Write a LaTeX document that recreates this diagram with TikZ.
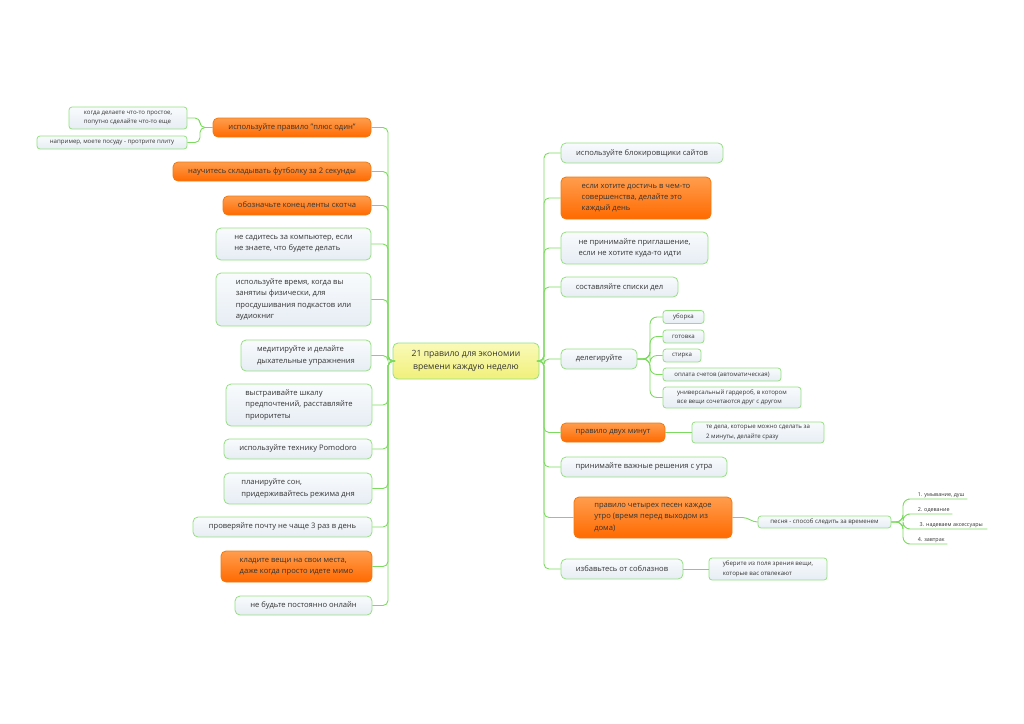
\documentclass[tikz,border=0pt]{standalone}
\usepackage{fontspec}
\setmainfont{Open Sans}
\definecolor{linegreen}{HTML}{7CDB5F}
\definecolor{boxgreen}{HTML}{94E07F}
\definecolor{textgray}{HTML}{333333}
\definecolor{lighttop}{HTML}{F9FBFD}
\definecolor{lightbot}{HTML}{E6EDF4}
\definecolor{orangetop}{HTML}{FF9D4D}
\definecolor{orangebot}{HTML}{FF6A00}
\definecolor{orangeline}{HTML}{F07A10}
\definecolor{yellowtop}{HTML}{FAFAB8}
\definecolor{yellowbot}{HTML}{F0F07A}
\newcommand{\mainsz}{\fontsize{7.6}{11.3}\selectfont}
\newcommand{\rootsz}{\fontsize{8.6}{12.5}\selectfont}
\newcommand{\smallsz}{\fontsize{6.1}{9.6}\selectfont}
\newcommand{\tinysz}{\fontsize{5.4}{7}\selectfont}
\tikzset{
  basebox/.style={rounded corners=5pt, draw=boxgreen, line width=0.8pt, text=textgray, inner sep=0pt, align=left, font=\mainsz},
  lbox/.style={basebox, top color=lighttop, bottom color=lightbot},
  obox/.style={basebox, draw=orangeline, top color=orangetop, bottom color=orangebot},
  rootbox/.style={basebox, top color=yellowtop, bottom color=yellowbot, align=center, font=\rootsz},
  sbox/.style={lbox, font=\smallsz, rounded corners=3pt},
  uline/.style={font=\tinysz, inner xsep=1.5pt, inner ysep=1.5pt, anchor=south west, text=textgray},
  conn/.style={draw=linegreen, line width=0.9pt, rounded corners=5pt},
  wh/.style n args={2}{minimum width=#1, minimum height=#2},
}
\begin{document}
\begin{tikzpicture}[x=1pt,y=-1pt]
\useasboundingbox (0,0) rectangle (1024,723);
% root
\node[rootbox, wh={146}{36}] (root) at (466,361) {21 правило для экономии\\времени каждую неделю};
\coordinate (lt) at (388,361);
\coordinate (rt) at (544,361);
% left side
\node[obox, wh={158}{19}] (l1) at (292,127.5) {используйте правило "плюс один"};
\node[obox, wh={198}{19}] (l2) at (272,171.5) {научитесь складывать футболку за 2 секунды};
\node[obox, wh={148}{19}] (l3) at (297,205.5) {обозначьте конец ленты скотча};
\node[lbox, wh={155}{32}] (l4) at (293.5,244) {не садитесь за компьютер, если\\не знаете, что будете делать};
\node[lbox, wh={155}{53}] (l5) at (293.5,299.5) {используйте время, когда вы\\занятиы физически, для\\просдушивания подкастов или\\аудиокниг};
\node[lbox, wh={130}{31}] (l6) at (306,355.5) {медитируйте и делайте\\дыхательные упражнения};
\node[lbox, wh={146}{42}] (l7) at (299,405) {выстраивайте шкалу\\предпочтений, расставляйте\\приоритеты};
\node[lbox, wh={148}{20}] (l8) at (298,449) {используйте технику Pomodoro};
\node[lbox, wh={148}{31}] (l9) at (298,488.5) {планируйте сон,\\придерживайтесь режима дня};
\node[lbox, wh={179}{20}] (l10) at (282.5,527) {проверяйте почту не чаще 3 раз в день};
\node[obox, wh={151}{31}] (l11) at (296.5,566.5) {кладите вещи на свои места,\\даже когда просто идете мимо};
\node[lbox, wh={137}{19}] (l12) at (303.5,605.5) {не будьте постоянно онлайн};
\node[sbox, wh={118}{22}] (c1) at (128,118) {когда делаете что-то простое,\\попутно сделайте что-то еще};
\node[sbox, wh={150}{13}] (c2) at (112,142.5) {например, моете посуду - протрите плиту};
\coordinate (cj) at (200,127.5);
% right side
\node[lbox, wh={162}{20}] (r1) at (642,153) {используйте блокировщики сайтов};
\node[obox, wh={150}{42}] (r2) at (636,198) {если хотите достичь в чем-то\\совершенства, делайте это\\каждый день};
\node[lbox, wh={147}{32}] (r3) at (634.5,248) {не принимайте приглашение,\\если не хотите куда-то идти};
\node[lbox, wh={117}{20}] (r4) at (619.5,287) {составляйте списки дел};
\node[lbox, wh={76}{20}] (r5) at (599,359) {делегируйте};
\node[obox, wh={104}{19}] (r6) at (613,432.5) {правило двух минут};
\node[lbox, wh={166}{20}] (r7) at (644,467) {принимайте важные решения с утра};
\node[obox, wh={158}{41}] (r8) at (653,517.5) {правило четырех песен каждое\\утро (время перед выходом из\\дома)};
\node[lbox, wh={122}{20}] (r9) at (622,569) {избавьтесь от соблазнов};
% delegate children
\node[sbox, wh={41}{13}] (d1) at (683.5,317) {уборка};
\node[sbox, wh={41}{13}] (d2) at (683.5,336.5) {готовка};
\node[sbox, wh={38}{13}] (d3) at (682,355.5) {стирка};
\node[sbox, wh={118}{13}] (d4) at (722,374.5) {оплата счетов (автоматическая)};
\node[sbox, wh={138}{21}] (d5) at (732,397.5) {универсальный гардероб, в котором\\все вещи сочетаются друг с другом};
\coordinate (dj) at (650,359);
% other children
\node[sbox, wh={132}{21}] (r6c) at (758,432.5) {те дела, которые можно сделать за\\2 минуты, делайте сразу};
\node[sbox, wh={133}{12}] (r8c) at (824.5,522) {песня - способ следить за временем};
\node[sbox, wh={118}{22}] (r9c) at (768,569) {уберите из поля зрения вещи,\\которые вас отвлекают};
\coordinate (gj) at (903,522);
\node[uline, minimum width=52] (g1) at (915,499) {1. умывание, душ};
\node[uline, minimum width=37] (g2) at (915,514) {2. одевание};
\node[uline, minimum width=72] (g3) at (915,529) {3. надеваем аксессуары};
\node[uline, minimum width=32] (g4) at (915,544) {4. завтрак};
% connectors
\foreach \n in {l1,l2,l3,l4,l5,l6,l7,l8,l9,l10,l11,l12}
  \draw[conn] (root.west) -- (lt) |- (\n.east);
\foreach \n in {r1,r2,r3,r4,r5,r6,r7,r8,r9}
  \draw[conn] (root.east) -- (rt) |- (\n.west);
\foreach \n in {c1,c2}
  \draw[conn] (l1.west) -- (cj) |- (\n.east);
\foreach \n in {d1,d2,d3,d4,d5}
  \draw[conn, rounded corners=7pt] (r5.east) -- (dj) |- (\n.west);
\draw[conn] (r6.east) -- (r6c.west);
\draw[conn] (r9.east) -- (r9c.west);
\draw[conn, rounded corners=0pt] (r8.east) -- ++(10,0) to[out=0,in=180] (r8c.west);
\foreach \n in {g1,g2,g3,g4}
  \draw[conn, rounded corners=7pt] (r8c.east) -- (gj) |- (\n.south west) -- (\n.south east);
\end{tikzpicture}
\end{document}
